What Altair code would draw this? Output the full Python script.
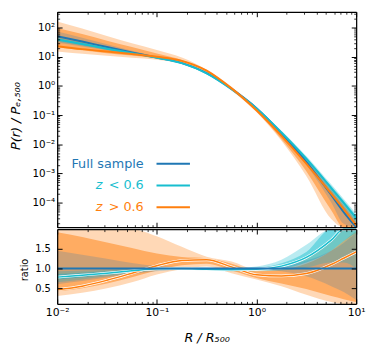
import altair as alt
import pandas as pd

# ---------------- data ----------------
r_over_r500 = [0.01, 0.0178, 0.0316, 0.0562, 0.1, 0.178, 0.316, 0.562, 1.0, 1.78, 3.16, 5.62, 7.5, 10.0]

# full-sample pressure profile P(r)/P_e,500
p_full = [50.1, 33.1, 21.4, 14.1, 9.33, 6.03, 2.75, 0.794, 0.174, 0.024, 0.00251, 1.86e-4, 4.8e-5, 1.2e-5]

# ratios to the full-sample profile (lower panel)
ratio_full = [1.0, 1.0, 1.0, 1.0, 1.0, 1.0, 1.0, 1.0, 1.0, 1.0, 1.0, 1.0, 1.0, 1.0]
ratio_lowz = [0.78, 0.83, 0.88, 0.94, 0.99, 1.00, 0.98, 0.97, 0.98, 1.06, 1.28, 1.72, 2.05, 2.5]
ratio_highz = [0.46, 0.55, 0.70, 0.88, 1.07, 1.20, 1.22, 1.04, 0.84, 0.81, 0.87, 1.10, 1.26, 1.42]

full_lo = [0.60, 0.68, 0.77, 0.86, 0.93, 0.97, 0.98, 0.98, 0.97, 0.93, 0.80, 0.55, 0.40, 0.20]
full_hi = [1.45, 1.35, 1.25, 1.14, 1.06, 1.03, 1.02, 1.02, 1.03, 1.07, 1.20, 1.45, 1.65, 1.90]

lowz_1s_lo = [0.72, 0.78, 0.84, 0.91, 0.97, 0.98, 0.96, 0.95, 0.96, 1.00, 1.15, 1.45, 1.70, 1.90]
lowz_1s_hi = [0.86, 0.89, 0.93, 0.97, 1.01, 1.02, 1.00, 0.99, 1.01, 1.13, 1.42, 2.00, 2.45, 3.00]
lowz_2s_lo = [0.65, 0.72, 0.80, 0.88, 0.95, 0.97, 0.95, 0.93, 0.93, 0.95, 1.02, 1.15, 1.15, 1.00]
lowz_2s_hi = [0.93, 0.95, 0.97, 1.00, 1.03, 1.04, 1.02, 1.01, 1.05, 1.22, 1.60, 2.30, 2.80, 3.50]

highz_1s_lo = [0.42, 0.50, 0.62, 0.78, 0.95, 1.08, 1.12, 0.95, 0.76, 0.62, 0.48, 0.30, 0.22, 0.15]
highz_1s_hi = [1.92, 1.80, 1.66, 1.52, 1.38, 1.29, 1.26, 1.12, 0.93, 0.97, 1.12, 1.45, 1.70, 1.95]
highz_2s_lo = [0.30, 0.38, 0.50, 0.65, 0.85, 0.98, 1.05, 0.88, 0.72, 0.55, 0.33, 0.15, 0.09, 0.05]
highz_2s_hi = [3.20, 2.80, 2.40, 2.05, 1.82, 1.55, 1.30, 1.18, 0.98, 1.02, 1.25, 1.75, 2.05, 2.40]

legend_names = ["Full sample", "z < 0.6", "z > 0.6"]
legend_italic = ["", "z", "z"]
legend_rest = ["Full sample", "< 0.6", "> 0.6"]

x_major = [0.01, 0.1, 1, 10]
y_major = [1e-4, 1e-3, 1e-2, 1e-1, 1, 10, 100]
ratio_ticks = [0.5, 1.0, 1.5]

BLUE, CYAN, ORANGE = "#1f77b4", "#17becf", "#ff7f0e"

# ---------------- table ----------------
df = pd.DataFrame({
    "x": r_over_r500, "p_full": p_full,
    "ratio_full": ratio_full, "ratio_lowz": ratio_lowz, "ratio_highz": ratio_highz,
    "full_lo": full_lo, "full_hi": full_hi,
    "lowz_1s_lo": lowz_1s_lo, "lowz_1s_hi": lowz_1s_hi,
    "lowz_2s_lo": lowz_2s_lo, "lowz_2s_hi": lowz_2s_hi,
    "highz_1s_lo": highz_1s_lo, "highz_1s_hi": highz_1s_hi,
    "highz_2s_lo": highz_2s_lo, "highz_2s_hi": highz_2s_hi,
})
ratio_cols = [c for c in df.columns if c not in ("x", "p_full")]
for c in ratio_cols:
    df["P_" + c] = df["p_full"] * df[c]

legend_df = pd.DataFrame({"row": [0, 1, 2], "name": legend_names,
                          "ital": legend_italic, "rest": legend_rest})

x_minor = [m * 10.0 ** e for e in (-2, -1, 0) for m in range(2, 10)]
y_minor = [m * 10.0 ** e for e in range(-5, 3) for m in range(2, 10)
           if 1.46e-5 <= m * 10.0 ** e <= 346]

W, H = 304, 297
TOP_BOTTOM, LOW_TOP = 219, 221

xs = alt.Scale(type="log", domain=[0.01, 10], nice=False)
ys_top = alt.Scale(type="log", domain=[1.46e-5, 346], range=[TOP_BOTTOM, 0], clamp=True, nice=False)
ys_low = alt.Scale(type="linear", domain=[0.1, 2.0], range=[H, LOW_TOP], clamp=True, nice=False, zero=False)

sup = {-5: "⁻⁵", -4: "⁻⁴", -3: "⁻³", -2: "⁻²", -1: "⁻¹", 0: "⁰", 1: "¹", 2: "²"}
pow_expr = "".join(f"round(log(datum.value)/LN10) == {k} ? '10{v}' : " for k, v in sup.items()) + "''"

AX = dict(grid=False, zindex=1, tickColor="black", domainColor="black", domainWidth=1.25,
          labelFont="DejaVu Sans", titleFont="DejaVu Sans", labelColor="black",
          titleColor="black", titleFontWeight="normal", minExtent=0,
          labelOverlap=False, labelFlush=False)


def tick_axis(orient, offset, size, values, width=1.0, domain=False):
    return alt.Axis(orient=orient, offset=offset, tickSize=size, values=values, ticks=True,
                    labels=False, domain=domain, title=None, tickWidth=width, **AX)


def frame_axis(orient, offset=0):
    return alt.Axis(orient=orient, offset=offset, ticks=False, labels=False, domain=True,
                    title=None, **AX)


base = alt.Chart(df)


def area(lo, hi, yscale, color, opacity, xaxis=None, yaxis=None):
    return base.mark_area(color=color, opacity=opacity, interpolate="monotone").encode(
        x=alt.X("x:Q", scale=xs, axis=xaxis),
        y=alt.Y(f"{lo}:Q", scale=yscale, axis=yaxis),
        y2=alt.Y2(f"{hi}:Q"),
    )


def line(col, yscale, color, width, xaxis=None, yaxis=None):
    return base.mark_line(color=color, strokeWidth=width, interpolate="monotone").encode(
        x=alt.X("x:Q", scale=xs, axis=xaxis),
        y=alt.Y(f"{col}:Q", scale=yscale, axis=yaxis),
    )


# ---------------- top panel ----------------
top_label_axis = alt.Axis(orient="left", offset=-5, tickSize=5, tickWidth=1.0, values=y_major,
                          labels=True, labelExpr=pow_expr, labelFontSize=10.5, labelPadding=2.5,
                          domain=False, title="P(r) / Pₑ,₅₀₀", titleFontSize=13,
                          titleFontStyle="italic", titleAngle=270, titleX=-43, titleY=105.5,
                          titleAlign="center", titleBaseline="alphabetic", **AX)

top_layers = [
    area("P_highz_2s_lo", "P_highz_2s_hi", ys_top, ORANGE, 0.3,
         xaxis=tick_axis("bottom", -H, 5, x_major, domain=True), yaxis=top_label_axis),
    area("P_highz_1s_lo", "P_highz_1s_hi", ys_top, ORANGE, 0.5,
         xaxis=tick_axis("bottom", -H, 2.5, x_minor, 0.8), yaxis=tick_axis("left", -2.5, 2.5, y_minor, 0.8)),
    area("P_lowz_2s_lo", "P_lowz_2s_hi", ys_top, CYAN, 0.3,
         xaxis=tick_axis("top", -TOP_BOTTOM, 5, x_major, domain=True), yaxis=tick_axis("right", -5, 5, y_major)),
    area("P_lowz_1s_lo", "P_lowz_1s_hi", ys_top, CYAN, 0.45,
         xaxis=tick_axis("top", -TOP_BOTTOM, 2.5, x_minor, 0.8), yaxis=tick_axis("right", -2.5, 2.5, y_minor, 0.8)),
    area("P_full_lo", "P_full_hi", ys_top, BLUE, 0.22, yaxis=frame_axis("left")),
    line("P_ratio_full", ys_top, BLUE, 2, yaxis=frame_axis("right")),
    line("P_ratio_lowz", ys_top, CYAN, 2),
    line("P_ratio_highz", ys_top, ORANGE, 2),
]

# legend
row_y = alt.Y("row:Q", scale=alt.Scale(domain=[0, 2], range=[154.5, 198.7], nice=False, zero=False), axis=None)
leg_color = alt.Color("name:N", scale=alt.Scale(domain=legend_names, range=[BLUE, CYAN, ORANGE]), legend=None)
legend_layers = [
    alt.Chart(legend_df).mark_text(align="right", baseline="middle", fontSize=13, font="DejaVu Sans").encode(
        x=alt.value(88), y=row_y, text="rest:N", color=leg_color),
    alt.Chart(legend_df).mark_text(align="right", baseline="middle", fontSize=13, font="DejaVu Sans",
                                   fontStyle="italic").encode(
        x=alt.value(46), y=row_y, text="ital:N", color=leg_color),
    alt.Chart(legend_df).mark_rule(strokeWidth=2).encode(
        x=alt.value(101), x2=alt.value(135), y=row_y, color=leg_color),
]

# ---------------- lower (ratio) panel ----------------
low_x_label_axis = alt.Axis(orient="bottom", offset=-5, tickSize=5, tickWidth=1.0, values=x_major,
                            labels=True, labelExpr=pow_expr, labelFontSize=11, labelPadding=3,
                            domain=False, title="R / R₅₀₀", titleFontSize=13, titleFontStyle="italic",
                            titleX=152, titleY=43, titleAlign="center", titleBaseline="alphabetic",
                            titleAngle=0, **AX)
low_y_label_axis = alt.Axis(orient="left", offset=-5, tickSize=5, tickWidth=1.0, values=ratio_ticks,
                            labels=True, format=".1f", labelFontSize=10, labelPadding=7, domain=False,
                            title="ratio", titleFontSize=10, titleAngle=270, titleX=-35.5, titleY=262,
                            titleAlign="center", titleBaseline="alphabetic", **AX)

low_layers = [
    area("highz_2s_lo", "highz_2s_hi", ys_low, ORANGE, 0.3, xaxis=low_x_label_axis, yaxis=low_y_label_axis),
    area("highz_1s_lo", "highz_1s_hi", ys_low, ORANGE, 0.5,
         xaxis=tick_axis("bottom", -2.5, 2.5, x_minor, 0.8), yaxis=tick_axis("right", -5, 5, ratio_ticks)),
    area("lowz_2s_lo", "lowz_2s_hi", ys_low, CYAN, 0.3,
         xaxis=tick_axis("bottom", LOW_TOP - H, 5, x_major, domain=True), yaxis=frame_axis("left")),
    area("lowz_1s_lo", "lowz_1s_hi", ys_low, CYAN, 0.45,
         xaxis=tick_axis("bottom", LOW_TOP - H, 2.5, x_minor, 0.8), yaxis=frame_axis("right")),
    area("full_lo", "full_hi", ys_low, BLUE, 0.22, xaxis=frame_axis("bottom")),
    line("ratio_highz", ys_low, "white", 2.8),
    line("ratio_highz", ys_low, ORANGE, 1.5),
    line("ratio_lowz", ys_low, "white", 2.8),
    line("ratio_lowz", ys_low, CYAN, 1.5),
    line("ratio_full", ys_low, BLUE, 2),
]

chart = alt.layer(*top_layers, *low_layers, *legend_layers).resolve_scale(
    x="independent", y="independent", color="shared"
).resolve_axis(x="independent", y="independent").properties(
    width=W, height=H, padding={"left": 2, "top": 0, "right": 0, "bottom": 0}
).configure_view(stroke="transparent")

chart.save("out.html", embed_options={"renderer": "svg", "actions": False})
